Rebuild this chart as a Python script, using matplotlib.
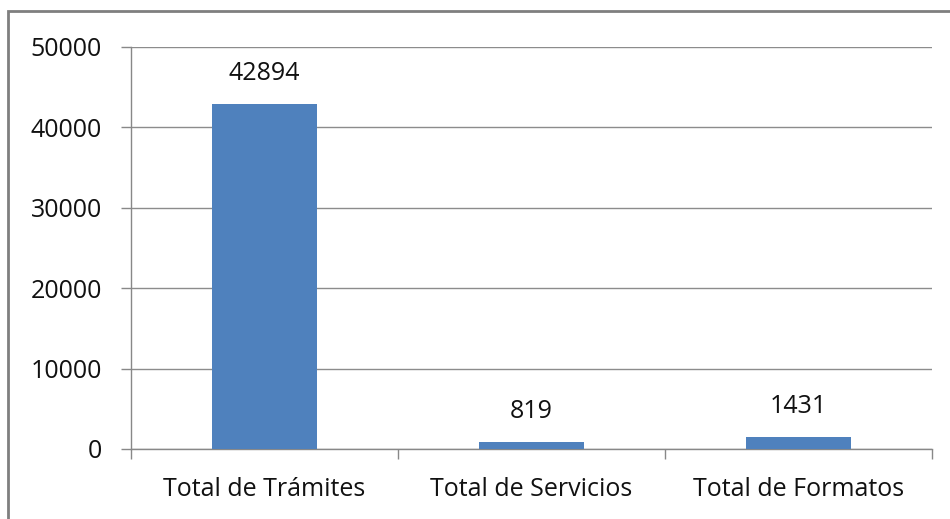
import matplotlib.pyplot as plt
from matplotlib.patches import Rectangle

categories = ['Total de Trámites', 'Total de Servicios', 'Total de Formatos']
values = [42894, 819, 1431]
yticks = [0, 10000, 20000, 30000, 40000, 50000]

plt.rcParams['font.family'] = ['Open Sans', 'DejaVu Sans']

fig = plt.figure(figsize=(9.5, 5.19), dpi=100)
ax = fig.add_axes([131/950, 1-449/519, (932-131)/950, (449-47)/519])

x = list(range(len(categories)))
bars = ax.bar(x, values, width=0.39, color='#4F81BD', zorder=3)
for xi, v in zip(x, values):
    ax.annotate(str(v), (xi, v), xytext=(0, 13), textcoords='offset points',
                ha='center', va='bottom', fontsize=18, color='#111111')

ax.set_xlim(-0.5, 2.5)
ax.set_ylim(0, 50000)
ax.set_yticks(yticks)
ax.set_yticklabels([str(t) for t in yticks], fontsize=18, color='#111111')
ax.set_xticks(x)
ax.set_xticklabels(categories, fontsize=18, color='#111111')
ax.tick_params(axis='x', length=0, pad=20)
ax.tick_params(axis='y', length=7, width=1, color='#888888', pad=14)
ax.set_xticks([-0.5, 0.5, 1.5, 2.5], minor=True)
ax.tick_params(axis='x', which='minor', length=7, width=1, color='#888888')

ax.grid(axis='y', color='#8c8c8c', linewidth=1, zorder=0)
for s in ['top', 'right']:
    ax.spines[s].set_visible(False)
for s in ['left', 'bottom']:
    ax.spines[s].set_color('#888888')
    ax.spines[s].set_linewidth(1)

fig.patches.append(Rectangle((8/950, -0.05), 1.1, 1-11/519+0.05, transform=fig.transFigure,
                             fill=False, edgecolor='#7f7f7f', linewidth=2))

fig.savefig('out.png', dpi=100)
